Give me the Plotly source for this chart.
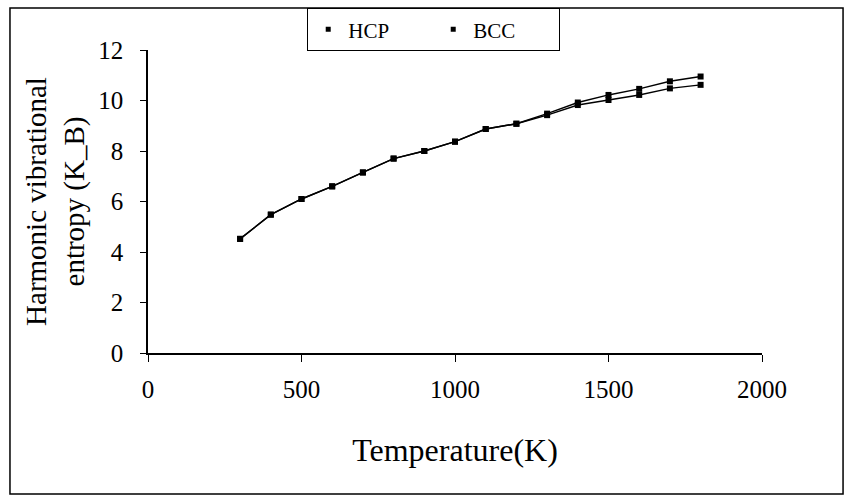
import plotly.graph_objects as go

temperature = [300, 400, 500, 600, 700, 800, 900, 1000, 1100, 1200, 1300, 1400, 1500, 1600, 1700, 1800]
hcp_entropy = [4.52, 5.48, 6.1, 6.6, 7.15, 7.7, 8.0, 8.37, 8.87, 9.08, 9.42, 9.82, 10.02, 10.22, 10.48, 10.62]
bcc_entropy = [4.52, 5.48, 6.1, 6.6, 7.15, 7.7, 8.0, 8.37, 8.87, 9.08, 9.48, 9.92, 10.22, 10.46, 10.76, 10.95]
x_ticks = [0, 500, 1000, 1500, 2000]
y_ticks = [0, 2, 4, 6, 8, 10, 12]

FONT = "Liberation Serif"

fig = go.Figure()
for name, vals in [("HCP", hcp_entropy), ("BCC", bcc_entropy)]:
    fig.add_trace(go.Scatter(
        x=temperature, y=vals, mode="lines+markers", name=name, showlegend=False,
        line=dict(color="black", width=1.4),
        marker=dict(symbol="square", size=6, color="black"),
    ))
    fig.add_trace(go.Scatter(
        x=[None], y=[None], mode="markers", name=name,
        marker=dict(symbol="square", size=5, color="black"),
    ))

fig.update_layout(
    width=846, height=502,
    margin=dict(l=148, r=84, t=50, b=149, autoexpand=False),
    paper_bgcolor="white", plot_bgcolor="white",
    font=dict(family=FONT, color="black", size=17),
    showlegend=True,
    legend=dict(
        orientation="h", x=0.259, xanchor="left", y=1.1386, yanchor="top",
        bordercolor="black", borderwidth=1.2, bgcolor="white",
        font=dict(family=FONT, size=21), entrywidth=80, itemwidth=30,
    ),
    shapes=[dict(type="rect", xref="paper", yref="paper",
                 x0=-0.2248, x1=1.132, y0=-0.465, y1=1.1386,
                 line=dict(color="black", width=1.5), layer="below")],
)
fig.update_xaxes(
    range=[0, 2000], tickvals=x_ticks, ticks="outside", ticklen=7, tickwidth=1.2,
    tickcolor="black", showline=True, linecolor="black", linewidth=1.5,
    showgrid=False, zeroline=False, ticklabelstandoff=6,
    tickfont=dict(family=FONT, size=25),
    title=dict(text="Temperature(K)", font=dict(family=FONT, size=32), standoff=37),
)
fig.update_yaxes(
    range=[0, 12], tickvals=y_ticks, ticks="outside", ticklen=6, tickwidth=1.2,
    tickcolor="black", showline=True, linecolor="black", linewidth=1.5,
    showgrid=False, zeroline=False, ticklabelstandoff=12,
    tickfont=dict(family=FONT, size=25),
    title=dict(text="Harmonic vibrational<br>entropy (K_B)", font=dict(family=FONT, size=29), standoff=5),
)

fig.write_html("out.html")
